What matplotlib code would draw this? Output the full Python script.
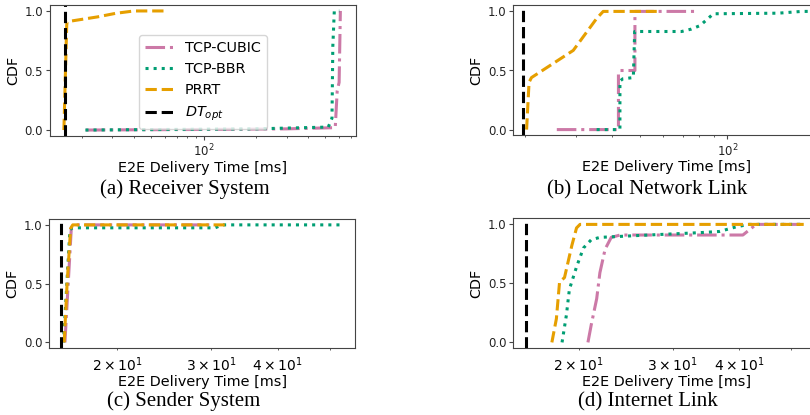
import matplotlib
matplotlib.use("Agg")
import matplotlib.pyplot as plt

# ---------------- data ----------------
series_names = ["TCP-CUBIC", "TCP-BBR", "PRRT"]
dt_label = "$DT_{opt}$"
captions = ["(a) Receiver System", "(b) Local Network Link",
            "(c) Sender System", "(d) Internet Link"]
x_label = "E2E Delivery Time [ms]"
y_label = "CDF"
y_ticks = [0.0, 0.5, 1.0]
y_tick_labels = ["0.0", "0.5", "1.0"]

# (a) Receiver System
a_cubic_x = [21.1, 100, 300, 570, 585, 600, 610]
a_cubic_y = [0.0, 0.005, 0.01, 0.02, 0.33, 0.40, 1.0]
a_bbr_x = [21.0, 200, 520, 546, 552, 563, 601]
a_bbr_y = [0.0, 0.01, 0.025, 0.10, 0.70, 1.0, 1.0]
a_prrt_x = [15.8, 16.4, 16.5, 24.6, 31.3, 39.9, 60.7]
a_prrt_y = [0.0, 0.88, 0.91, 0.95, 0.98, 1.0, 1.0]
a_dt = 16.0
a_xlim = (13.15, 745)

# (b) Local Network Link
b_cubic_x = [25.7, 42.0, 42.0, 42.5, 47.9, 47.9, 78.3]
b_cubic_y = [0.0, 0.0, 0.47, 0.50, 0.50, 1.0, 1.0]
b_bbr_x = [35.3, 42.5, 42.5, 43.5, 47.3, 47.8, 69.5, 75.0, 80.5, 89.5, 150, 181, 200]
b_bbr_y = [0.0, 0.0, 0.41, 0.43, 0.44, 0.83, 0.83, 0.85, 0.88, 0.98, 0.985, 1.0, 1.0]
b_prrt_x = [20.2, 20.6, 21.0, 29.3, 35.3, 37.2, 57.0]
b_prrt_y = [0.0, 0.40, 0.44, 0.67, 0.94, 1.0, 1.0]
b_dt = 19.7
b_xlim = (18.17, 207.7)

# (c) Sender System
c_cubic_x = [15.95, 16.4, 16.6, 30.0]
c_cubic_y = [0.0, 0.98, 1.0, 1.0]
c_bbr_x = [15.85, 16.3, 16.5, 30.5, 31.5, 52.3]
c_bbr_y = [0.0, 0.96, 0.975, 0.975, 1.0, 1.0]
c_prrt_x = [15.9, 16.1, 16.35, 16.5, 31.8]
c_prrt_y = [0.0, 0.50, 0.97, 1.0, 1.0]
c_dt = 15.7
c_xlim = (14.91, 55.8)

# (d) Internet Link
d_cubic_x = [20.8, 21.1, 21.6, 21.9, 22.4, 23.0, 23.9, 40.6, 43.0, 52.0]
d_cubic_y = [0.0, 0.15, 0.37, 0.59, 0.79, 0.89, 0.91, 0.91, 1.0, 1.0]
d_bbr_x = [18.6, 18.95, 19.2, 19.8, 20.4, 21.1, 21.9, 27.0, 33.7, 36.7, 39.5, 41.7, 52.8]
d_bbr_y = [0.0, 0.23, 0.45, 0.64, 0.80, 0.87, 0.89, 0.91, 0.93, 0.94, 0.98, 1.0, 1.0]
d_prrt_x = [17.8, 18.15, 18.4, 18.8, 19.4, 19.8, 20.1, 52.8]
d_prrt_y = [0.0, 0.20, 0.51, 0.55, 0.82, 0.97, 1.0, 1.0]
d_dt = 15.95
d_xlim = (15.07, 56.4)

# ---------------- style ----------------
colors = ["#CC79A7", "#009E73", "#E69F00"]
styles = ["-.", ":", "--"]
LW = 2.2

W, H = 810, 415
fig = plt.figure(figsize=(W / 100, H / 100), dpi=100)

def rect(l, t, r, b):
    return [l / W, 1 - b / H, (r - l) / W, (b - t) / H]

panels = [
    (rect(50, 5, 355.5, 136), (a_cubic_x, a_cubic_y), (a_bbr_x, a_bbr_y), (a_prrt_x, a_prrt_y), a_dt, a_xlim),
    (rect(513.3, 5.5, 819, 135.5), (b_cubic_x, b_cubic_y), (b_bbr_x, b_bbr_y), (b_prrt_x, b_prrt_y), b_dt, b_xlim),
    (rect(49.3, 219, 355, 348.3), (c_cubic_x, c_cubic_y), (c_bbr_x, c_bbr_y), (c_prrt_x, c_prrt_y), c_dt, c_xlim),
    (rect(513.3, 218.5, 819, 348.3), (d_cubic_x, d_cubic_y), (d_bbr_x, d_bbr_y), (d_prrt_x, d_prrt_y), d_dt, d_xlim),
]

axes = []
for i, (r, cu, bb, pr, dt, xl) in enumerate(panels):
    ax = fig.add_axes(r)
    axes.append(ax)
    for (xs, ys), name, c, ls in zip([cu, bb, pr], series_names, colors, styles):
        ax.plot(xs, ys, color=c, linestyle=ls, linewidth=LW, label=name)
    ax.axvline(dt, color="black", linestyle="--", linewidth=LW, label=dt_label)
    ax.set_xscale("log")
    ax.set_xlim(*xl)
    ax.set_ylim(-0.05, 1.05)
    ax.set_yticks(y_ticks)
    ax.set_yticklabels(y_tick_labels)
    ax.tick_params(labelsize=8.5, colors="#222222", pad=2)
    ax.tick_params(which="major", length=3)
    ax.tick_params(which="minor", length=1.7)
    ax.tick_params(which="both", color="#444444")
    ax.set_xlabel(x_label, fontsize=10.4, labelpad=1)
    ax.set_ylabel(y_label, fontsize=10.4, labelpad=3)
    for s in ax.spines.values():
        s.set_color("#444444")

axes[0].legend(loc="lower center", fontsize=10.4)

cap_pos = [(185, 189), (647.5, 190), (184, 401.5), (647.5, 402)]
for txt, (cx, cy) in zip(captions, cap_pos):
    fig.text(cx / W, 1 - cy / H, txt, ha="center", va="center",
             fontsize=15, family="Liberation Serif")

fig.savefig("out.png", dpi=100)
